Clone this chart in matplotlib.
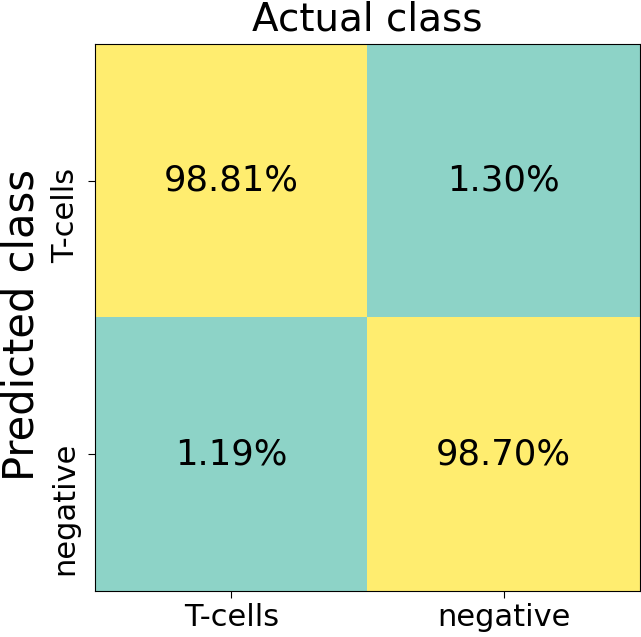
import numpy as np
import matplotlib
matplotlib.use("Agg")
import matplotlib.pyplot as plt
import matplotlib.transforms as mtransforms
from matplotlib.colors import ListedColormap

classes = ["T-cells", "negative"]
# rows = predicted, cols = actual (percent)
conf = np.array([[98.81, 1.30],
                 [1.19, 98.70]])

cmap = ListedColormap(["#8DD3C7", "#FFED6F"])
diag = np.eye(2)

fig = plt.figure(figsize=(6.41, 6.37), dpi=100)
ax = fig.add_axes([95 / 641, 1 - 591 / 637, 545 / 641, 547 / 637])
ax.imshow(diag, cmap=cmap, aspect="auto", vmin=0, vmax=1)

for i in range(2):
    for j in range(2):
        ax.text(j, i, "%.2f%%" % conf[i, j], ha="center", va="center", fontsize=25.5)

ax.tick_params(length=5)
ax.tick_params(axis="y", pad=6)
ax.set_xticks(range(2))
ax.set_xticklabels(classes, fontsize=22)
ax.set_yticks(range(2))
ax.set_yticklabels(classes, fontsize=22, rotation=90, va="top")
# nudge y tick labels up a little, as in the original
shift = mtransforms.ScaledTranslation(0, 9 / 72, fig.dpi_scale_trans)
for lab in ax.get_yticklabels():
    lab.set_transform(lab.get_transform() + shift)

ax.set_title("Actual class", fontsize=28, pad=10)
ax.set_ylabel("Predicted class", fontsize=30)
ax.yaxis.set_label_coords(-0.097, 0.486)

fig.savefig("out.png", dpi=100)
